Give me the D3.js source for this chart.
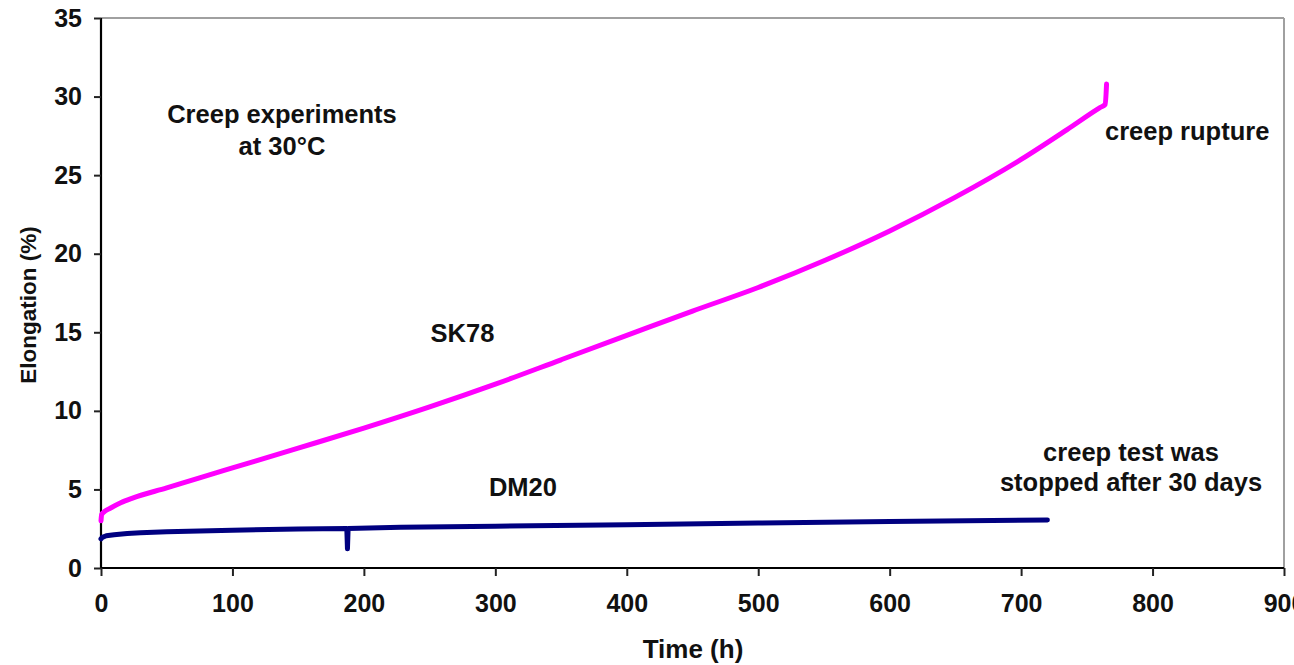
<!DOCTYPE html>
<html>
<head>
<meta charset="utf-8">
<script src="https://cdn.jsdelivr.net/npm/d3@7"></script>
<style>
  html, body { margin: 0; padding: 0; background: #fff; }
  svg { display: block; }
  text { font-family: "Liberation Sans", Arial, sans-serif; font-weight: bold; fill: #111; }
</style>
</head>
<body>
<svg id="chart" width="1294" height="665"></svg>
<script>
// ---- data ----
const xTicks = [0, 100, 200, 300, 400, 500, 600, 700, 800, 900];
const yTicks = [0, 5, 10, 15, 20, 25, 30, 35];

const sk78Time = [0, 0.5, 2, 7, 15, 24, 50, 75, 100, 150, 200, 250, 300, 350, 400, 450, 500, 550, 600, 650, 700, 735, 760, 764, 765];
const sk78Elong = [3.0, 3.4, 3.55, 3.8, 4.15, 4.45, 5.1, 5.74, 6.37, 7.63, 8.9, 10.25, 11.7, 13.25, 14.8, 16.35, 17.85, 19.55, 21.45, 23.6, 26.0, 27.9, 29.3, 29.5, 30.8];

const dm20Time = [0, 1, 4, 10, 20, 30, 50, 75, 100, 150, 187, 187.5, 188, 228, 300, 400, 500, 600, 720];
const dm20Elong = [1.85, 1.95, 2.05, 2.12, 2.2, 2.25, 2.3, 2.35, 2.4, 2.48, 2.52, 1.22, 2.52, 2.6, 2.66, 2.76, 2.86, 2.96, 3.06];

const annotations = [
  { text: "Creep experiments", x: 137.7, y: 28.3, anchor: "middle" },
  { text: "at 30°C", x: 137.7, y: 26.3, anchor: "middle" },
  { text: "SK78", x: 275, y: 14.4, anchor: "middle" },
  { text: "DM20", x: 321, y: 4.6, anchor: "middle" },
  { text: "creep test was", x: 783.6, y: 6.8, anchor: "middle" },
  { text: "stopped after 30 days", x: 783.6, y: 4.9, anchor: "middle" },
  { text: "creep rupture", x: 763.8, y: 27.25, anchor: "start" }
];

// ---- layout ----
const svg = d3.select("#chart");
const mLeft = 101, mRight = 1284, mTop = 18, mBottom = 568;

const x = d3.scaleLinear().domain([0, 900]).range([mLeft, mRight]);
const y = d3.scaleLinear().domain([0, 35]).range([mBottom, mTop]);

// frame (top & right grey)
svg.append("line").attr("x1", mLeft).attr("x2", mRight).attr("y1", mTop).attr("y2", mTop)
  .attr("stroke", "#a0a0a0").attr("stroke-width", 2);
svg.append("line").attr("x1", mRight).attr("x2", mRight).attr("y1", mTop).attr("y2", mBottom)
  .attr("stroke", "#a0a0a0").attr("stroke-width", 2);

// axes
const xAxis = d3.axisBottom(x).tickValues(xTicks).tickSize(8).tickPadding(18).tickFormat(d3.format("d"));
const yAxis = d3.axisLeft(y).tickValues(yTicks).tickSize(7).tickPadding(12).tickFormat(d3.format("d"));

const gx = svg.append("g").attr("transform", `translate(0,${mBottom})`).call(xAxis);
const gy = svg.append("g").attr("transform", `translate(${mLeft},0)`).call(yAxis);

[gx, gy].forEach(g => {
  g.select(".domain").attr("stroke", "#000").attr("stroke-width", 2.2);
  g.selectAll(".tick line").attr("stroke", "#222").attr("stroke-width", 2);
  g.selectAll(".tick text").attr("font-size", 25).attr("font-family", "Liberation Sans, Arial, sans-serif")
    .attr("font-weight", "bold").attr("fill", "#111");
});
gx.selectAll(".tick text").attr("dy", "0.71em");
gy.select(".domain").attr("d", `M0,${mBottom}V${mTop}`);
gx.select(".domain").attr("d", `M${mLeft},0H${mRight}`);

// lines
const line = d3.line().x(d => x(d[0])).y(d => y(d[1]));
const smooth = d3.line().x(d => x(d[0])).y(d => y(d[1])).curve(d3.curveMonotoneX);
const sk78 = sk78Time.map((t, i) => [t, sk78Elong[i]]);
const dm20 = dm20Time.map((t, i) => [t, dm20Elong[i]]);

svg.append("path").datum(dm20).attr("d", line)
  .attr("fill", "none").attr("stroke", "#000080").attr("stroke-width", 5)
  .attr("stroke-linejoin", "round").attr("stroke-linecap", "round");
svg.append("path").datum(sk78).attr("d", smooth)
  .attr("fill", "none").attr("stroke", "#ff00ff").attr("stroke-width", 5)
  .attr("stroke-linejoin", "round").attr("stroke-linecap", "round");

// annotations
svg.selectAll("text.ann").data(annotations).enter().append("text")
  .attr("class", "ann")
  .attr("x", d => x(d.x)).attr("y", d => y(d.y))
  .attr("text-anchor", d => d.anchor)
  .attr("font-size", 25.5)
  .text(d => d.text);

// axis titles
svg.append("text").attr("x", 693).attr("y", 658).attr("text-anchor", "middle")
  .attr("font-size", 26).text("Time (h)");
svg.append("text").attr("transform", "translate(36,305) rotate(-90)").attr("text-anchor", "middle")
  .attr("font-size", 22.5).text("Elongation (%)");
</script>
</body>
</html>
